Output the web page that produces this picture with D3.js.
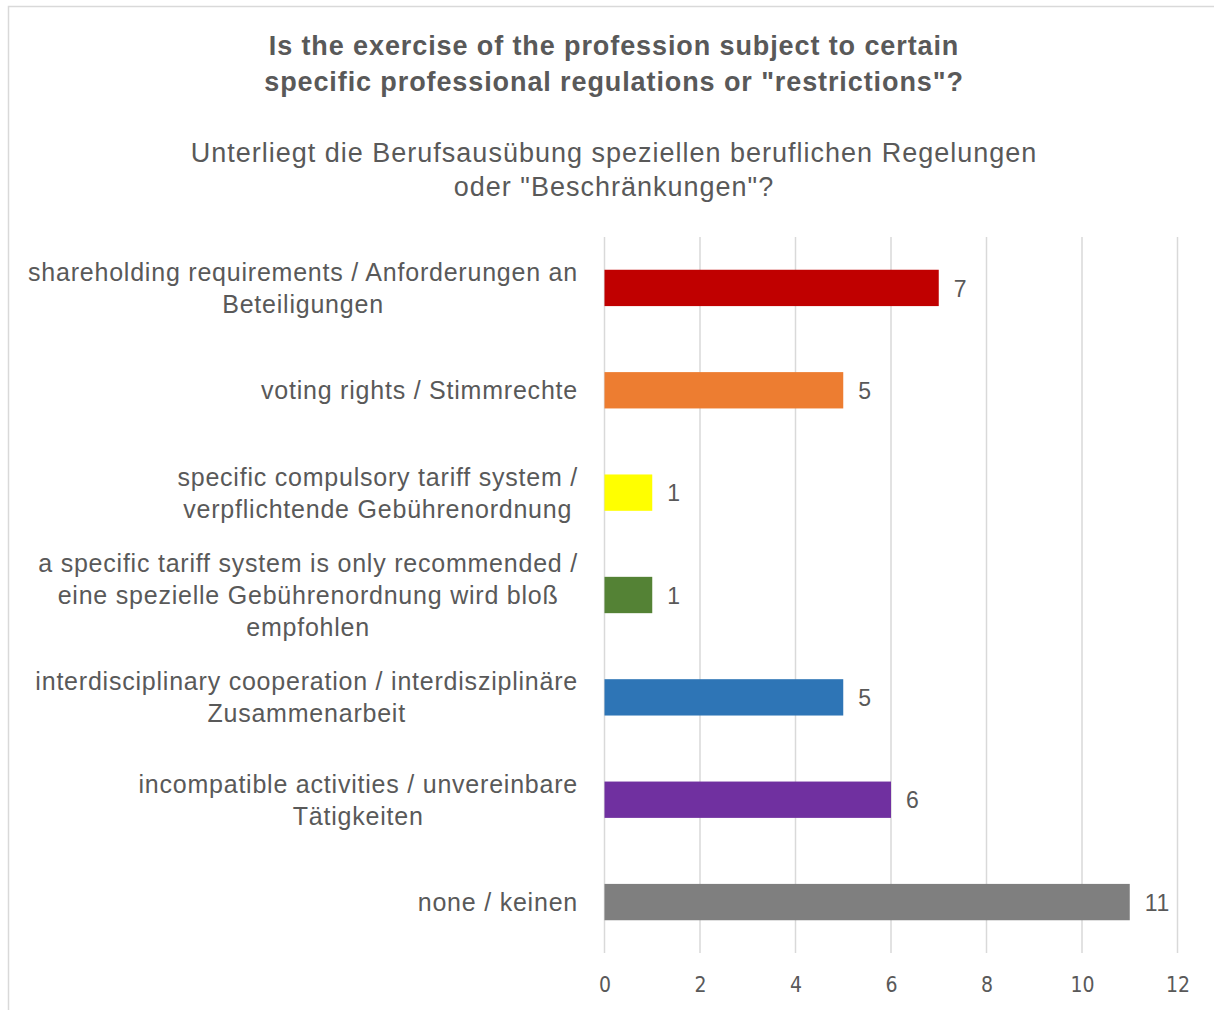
<!DOCTYPE html>
<html><head><meta charset="utf-8">
<script src="https://cdn.jsdelivr.net/npm/d3@7"></script>
<style>body{margin:0;background:#fff}svg{display:block}</style>
</head><body>
<svg id="c" width="1214" height="1010"></svg>
<script>
const categories = [
  ["shareholding requirements / Anforderungen an", "Beteiligungen"],
  ["voting rights / Stimmrechte"],
  ["specific compulsory tariff system /", "verpflichtende Gebührenordnung"],
  ["a specific tariff system is only recommended /", "eine spezielle Gebührenordnung wird bloß", "empfohlen"],
  ["interdisciplinary cooperation / interdisziplinäre", "Zusammenarbeit"],
  ["incompatible activities / unvereinbare", "Tätigkeiten"],
  ["none / keinen"]
];
const values = [7, 5, 1, 1, 5, 6, 11];
const colors = ["#C00000", "#ED7D31", "#FFFF00", "#548235", "#2E75B6", "#7030A0", "#7F7F7F"];
const ticks = [0, 2, 4, 6, 8, 10, 12];
const titleLines = ["Is the exercise of the profession subject to certain", "specific professional regulations or \"restrictions\"?"];
const subtitleLines = ["Unterliegt die Berufsausübung speziellen beruflichen Regelungen", "oder \"Beschränkungen\"?"];

const svg = d3.select("#c");
const txt = "#595959";
const FF = "'Liberation Sans', Arial, Helvetica, sans-serif";
// frame
svg.append("rect").attr("x", 8.5).attr("y", 6.5).attr("width", 1300).attr("height", 1100)
  .attr("fill", "none").attr("stroke", "#D9D9D9").attr("stroke-width", 1.5);

const x = d3.scaleLinear().domain([0, 12]).range([604.5, 1177.5]);
const y = d3.scaleBand().domain(d3.range(categories.length)).range([237, 953]).paddingInner(0.645).paddingOuter(0.32);

// gridlines
svg.append("g").selectAll("line").data(ticks).join("line")
  .attr("x1", d => x(d)).attr("x2", d => x(d)).attr("y1", 237).attr("y2", 953)
  .attr("stroke", "#D9D9D9").attr("stroke-width", 1.5);

// axis labels
const ax = svg.append("g").attr("transform", "translate(0,953)")
  .call(d3.axisBottom(x).tickValues(ticks).tickSize(0).tickPadding(24));
ax.select(".domain").remove();
ax.selectAll("text").attr("fill", txt).attr("font-family", "'Liberation Sans Narrow', 'DejaVu Sans Condensed', sans-serif").attr("font-size", 21);

// bars
svg.append("g").selectAll("rect").data(values).join("rect")
  .attr("x", x(0)).attr("y", (d, i) => y(i)).attr("width", d => x(d) - x(0)).attr("height", y.bandwidth())
  .attr("fill", (d, i) => colors[i]);

// value labels
svg.append("g").selectAll("text").data(values).join("text")
  .attr("x", d => x(d) + 15).attr("y", (d, i) => y(i) + y.bandwidth() / 2).attr("dy", "0.38em")
  .attr("fill", txt).attr("font-family", FF).attr("font-size", 23).attr("letter-spacing", 0.6)
  .text(d => d);

// category labels (centered block, right aligned)
const lh = 32;
categories.forEach((lines, i) => {
  const g = svg.append("g");
  const cy = y(i) + y.bandwidth() / 2;
  const t = g.selectAll("text").data(lines).join("text")
    .attr("y", (d, j) => cy + (j - (lines.length - 1) / 2) * lh).attr("dy", "0.36em")
    .attr("fill", txt).attr("font-family", FF).attr("font-size", 25).attr("letter-spacing", 0.78)
    .attr("text-anchor", "middle").text(d => d);
  let maxW = 0;
  t.each(function () { maxW = Math.max(maxW, this.getComputedTextLength()); });
  t.attr("x", 578 - maxW / 2);
});

// title
svg.append("g").selectAll("text").data(titleLines).join("text")
  .attr("x", 614).attr("y", (d, i) => 55 + i * 36)
  .attr("text-anchor", "middle").attr("fill", txt).attr("font-weight", "bold")
  .attr("font-family", FF).attr("font-size", 27).attr("letter-spacing", 0.9).text(d => d);
svg.append("g").selectAll("text").data(subtitleLines).join("text")
  .attr("x", 614).attr("y", (d, i) => 162 + i * 34)
  .attr("text-anchor", "middle").attr("fill", txt)
  .attr("font-family", FF).attr("font-size", 27).attr("letter-spacing", 1.0).text(d => d);
</script>
</body></html>
